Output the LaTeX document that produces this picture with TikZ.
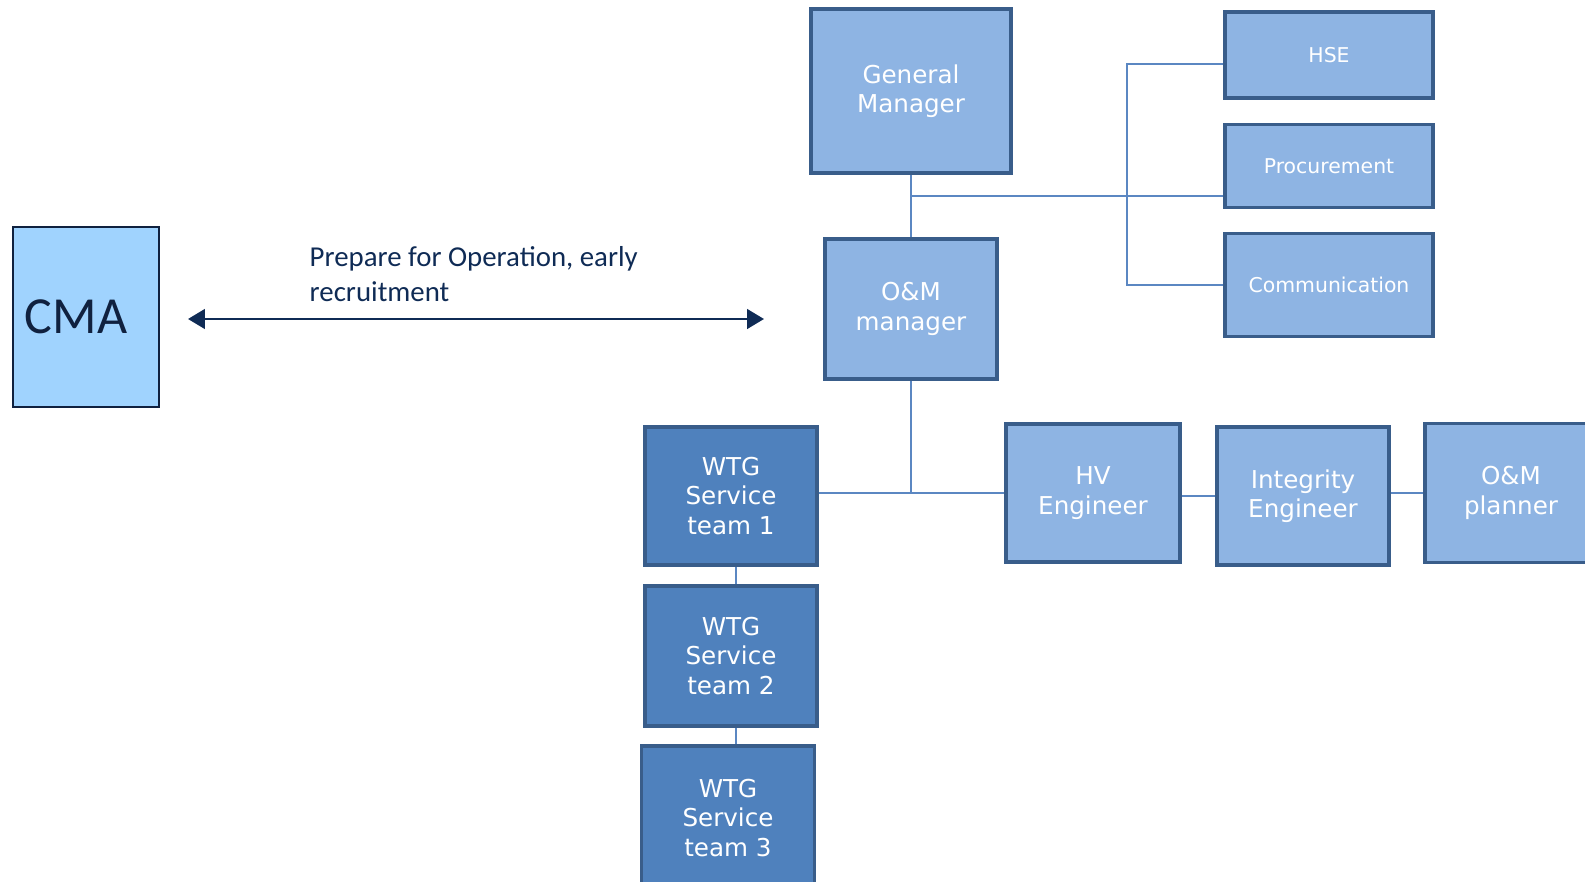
\documentclass[tikz,border=0pt]{standalone}
\usepackage{fontspec}
\setmainfont{DejaVu Sans}
\newfontfamily\calib{Carlito}
\usepackage{xcolor}
\usetikzlibrary{arrows.meta,positioning,calc}

\definecolor{boxfill}{HTML}{8EB4E3}
\definecolor{boxline}{HTML}{395D8A}
\definecolor{teamfill}{HTML}{4F81BD}
\definecolor{cmafill}{HTML}{A0D3FE}
\definecolor{cmaline}{HTML}{10213F}
\definecolor{navy}{HTML}{0F2B55}
\definecolor{connline}{HTML}{5B87C2}

\begin{document}
\begin{tikzpicture}[
    x=0.01cm, y=-0.01cm,
    >=Triangle,
    box/.style={draw=boxline, line width=1.1pt, fill=#1, text=white,
                font=\fontsize{7}{8.4}\selectfont,
                inner sep=2pt, align=center},
    box/.default=boxfill,
    small/.style={font=\fontsize{5.8}{7}\selectfont},
    conn/.style={draw=connline, line width=0.5pt},
  ]
  \path[use as bounding box, clip] (0,0) rectangle (1585,882);

  % CMA and the link to the organisation
  \node[draw=cmaline, line width=0.8pt, fill=cmafill, text=cmaline,
        minimum height=1.8cm, inner xsep=0.12cm, text width=1.22cm,
        align=left, font=\calib\fontsize{14.8}{16}\selectfont] (cma) at (86,317) {CMA};
  \coordinate (linkl) at (188,319);
  \coordinate (linkr) at (764,319);
  \draw[<->, navy, line width=0.8pt] (linkl) -- (linkr);
  \node[anchor=west, inner sep=0pt, align=left, text=navy,
        font=\calib\fontsize{8.2}{10}\selectfont] (prep) at (309,274)
    {Prepare for Operation, early\\recruitment};

  % Management
  \node[box, minimum width=2cm, minimum height=1.64cm] (gm) at (911,91) {General\\Manager};
  \node[box, minimum width=1.72cm, minimum height=1.4cm] (om) at (911,309) {O\&M\\manager};

  % Staff functions
  \node[box, small, minimum width=2.08cm, minimum height=0.86cm] (hse) at (1329,55) {HSE};
  \node[box, small, minimum width=2.08cm, minimum height=0.83cm] (proc) at (1329,166) {Procurement};
  \node[box, small, minimum width=2.08cm, minimum height=1.03cm] (comm) at (1329,285) {Communication};

  \draw[conn] (gm.south) -- (om.north);
  \coordinate (hub) at (911,196);
  \draw[conn] (hub) -- (hub -| proc.west);
  \coordinate (bus) at (1127,64);
  \draw[conn] (bus -| hse.west) -- (bus) |- (comm.west);

  % Field organisation
  \node[box=teamfill, minimum width=1.72cm, minimum height=1.38cm] (wtg1) at (731,496) {WTG\\Service\\team 1};
  \node[box=teamfill, minimum width=1.72cm, minimum height=1.4cm] (wtg2) at (731,656) {WTG\\Service\\team 2};
  \node[box=teamfill, minimum width=1.73cm, minimum height=1.44cm] (wtg3) at (728,818) {WTG\\Service\\team 3};

  \node[box, minimum width=1.74cm, minimum height=1.38cm] (hv) at (1093,493) {HV\\Engineer};
  \node[box, minimum width=1.72cm, minimum height=1.38cm] (integ) at (1303,496) {Integrity\\Engineer};
  \node[box, minimum width=1.72cm, minimum height=1.39cm] (plan) at (1511,493) {O\&M\\planner};

  \coordinate (tee) at (om.south |- hv.west);
  \draw[conn] (om.south) -- (tee);
  \draw[conn] (tee -| wtg1.east) -- (hv.west);
  \draw[conn] (hv.east |- integ.west) -- (integ.west);
  \draw[conn] (integ.east |- plan.west) -- (plan.west);
  \coordinate (col) at (736,0);
  \draw[conn] (col |- wtg1.south) -- (col |- wtg2.north);
  \draw[conn] (col |- wtg2.south) -- (col |- wtg3.north);
\end{tikzpicture}
\end{document}
